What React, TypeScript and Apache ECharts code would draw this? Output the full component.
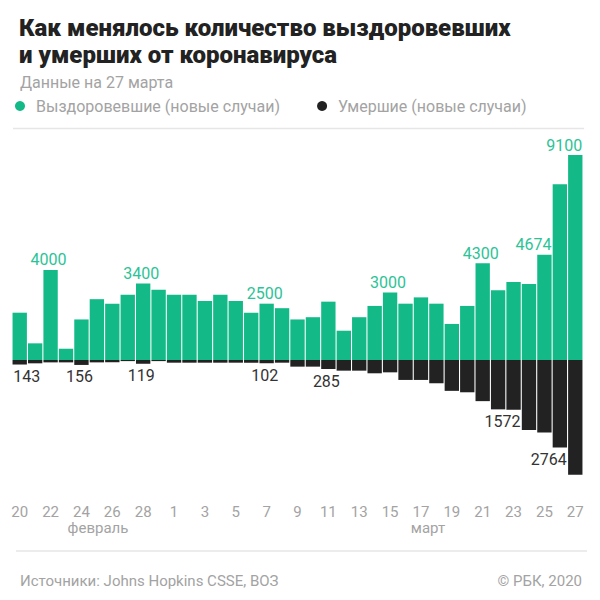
import { useEffect, useRef } from "react";
import * as echarts from "echarts";

// days from 20 Feb to 27 Mar 2020
const days = [
  "20.02", "21.02", "22.02", "23.02", "24.02", "25.02", "26.02", "27.02", "28.02", "29.02",
  "01.03", "02.03", "03.03", "04.03", "05.03", "06.03", "07.03", "08.03", "09.03", "10.03",
  "11.03", "12.03", "13.03", "14.03", "15.03", "16.03", "17.03", "18.03", "19.03", "20.03",
  "21.03", "22.03", "23.03", "24.03", "25.03", "26.03", "27.03",
];

// new recovered per day
const recovered = [
  2100, 740, 4000, 500, 1800, 2700, 2500, 2900, 3400, 3120,
  2900, 2900, 2620, 2900, 2620, 2100, 2500, 2300, 1800, 1900,
  2590, 1300, 1900, 2400, 3000, 2500, 2780, 2500, 1600, 2400,
  4300, 3100, 3460, 3370, 4674, 7800, 9100,
];

// new deaths per day
const deaths = [
  143, 105, 75, 75, 156, 75, 75, 35, 119, 35,
  85, 85, 85, 85, 85, 85, 102, 85, 210, 210,
  285, 337, 337, 420, 390, 630, 630, 735, 975, 1020,
  1300, 1560, 1572, 2210, 2290, 2764, 3630,
];

// which days get a value label
const recoveredLabelDays = ["22.02", "28.02", "07.03", "15.03", "21.03", "25.03", "27.03"];
const deathLabelDays = ["20.02", "24.02", "28.02", "07.03", "11.03", "23.03", "26.03"];

const GREEN = "#13ba87";
const GREEN_TEXT = "#2cc396";
const DARK = "#222222";
const GRAY = "#a3a3a3";

// labels near the chart edges are shifted sideways
const labelShift: Record<string, number> = {
  "20.02": 7,
  "23.03": -11,
  "25.03": -11,
  "26.03": -11,
  "27.03": -11,
};

export default function App() {
  const ref = useRef<HTMLDivElement>(null);

  useEffect(() => {
    if (!ref.current) return;
    const chart = echarts.init(ref.current, null, { renderer: "svg" });

    const recMax = 9100;
    const recMin = (-recMax * 130) / 205;
    const deathPerPx = 31.6;

    chart.setOption({
      animation: false,
      backgroundColor: "#fff",
      textStyle: { fontFamily: "Roboto" },
      title: [
        {
          text: "Как менялось количество выздоровевших\nи умерших от коронавируса",
          left: 14,
          top: 9,
          textStyle: { fontSize: 24, fontWeight: 900, color: DARK, lineHeight: 27, fontFamily: "Roboto" },
        },
        {
          text: "Данные на 27 марта",
          left: 15,
          top: 69,
          textStyle: { fontSize: 16, fontWeight: "normal", color: GRAY },
        },
        {
          text: "Источники: Johns Hopkins CSSE, ВОЗ",
          left: 15,
          top: 568,
          textStyle: { fontSize: 15, fontWeight: "normal", color: GRAY },
        },
        {
          text: "© РБК, 2020",
          right: 13,
          top: 568,
          textStyle: { fontSize: 15, fontWeight: "normal", color: GRAY },
        },
      ],
      legend: {
        left: 10,
        top: 93,
        icon: "circle",
        itemWidth: 22,
        itemHeight: 10,
        itemGap: 37,
        textStyle: { fontSize: 16, color: GRAY },
        data: ["Выздоровевшие (новые случаи)", "Умершие (новые случаи)"],
      },
      grid: { left: 12, right: 17, top: 155, bottom: 110 },
      xAxis: {
        type: "category",
        data: days,
        axisLine: { show: false, onZero: false },
        axisTick: { show: false },
        axisLabel: {
          interval: 1,
          margin: 14,
          fontSize: 15,
          color: GRAY,
          formatter: (v: string) => String(parseInt(v.split(".")[0], 10)),
        },
      },
      yAxis: [
        { type: "value", min: recMin, max: recMax, show: false, splitLine: { show: false } },
        {
          type: "value",
          min: -130 * deathPerPx,
          max: 205 * deathPerPx,
          show: false,
          splitLine: { show: false },
        },
      ],
      series: [
        {
          name: "Выздоровевшие (новые случаи)",
          type: "bar",
          yAxisIndex: 0,
          barWidth: "93%",
          barGap: "-100%",
          itemStyle: { color: GREEN },
          data: recovered.map((v, i) => {
            const d = days[i];
            if (!recoveredLabelDays.includes(d)) return v;
            return {
              value: v,
              label: {
                show: true,
                position: "top",
                distance: 2,
                offset: [labelShift[d] ?? -2, 0],
                fontSize: 16,
                color: GREEN_TEXT,
              },
            };
          }),
        },
        {
          name: "Умершие (новые случаи)",
          type: "bar",
          yAxisIndex: 1,
          barWidth: "93%",
          itemStyle: { color: DARK },
          data: deaths.map((v, i) => {
            const d = days[i];
            if (!deathLabelDays.includes(d)) return -v;
            return {
              value: -v,
              label: {
                show: true,
                position: "bottom",
                distance: 4,
                offset: [labelShift[d] ?? -2, 0],
                fontSize: 16,
                color: "#333",
                formatter: () => String(v),
              },
            };
          }),
        },
      ],
      graphic: [
        { type: "line", shape: { x1: 13, y1: 128.5, x2: 584, y2: 128.5 }, style: { stroke: "#e6e6e6", lineWidth: 1.5 } },
        { type: "line", shape: { x1: 16, y1: 551, x2: 587, y2: 551 }, style: { stroke: "#e6e6e6", lineWidth: 1.5 } },
        {
          type: "text",
          x: 98,
          y: 528,
          style: { text: "февраль", fontSize: 15, fill: GRAY, align: "center", verticalAlign: "middle", fontFamily: "Roboto" },
        },
        {
          type: "text",
          x: 428,
          y: 528,
          style: { text: "март", fontSize: 15, fill: GRAY, align: "center", verticalAlign: "middle", fontFamily: "Roboto" },
        },
      ],
    });

    return () => chart.dispose();
  }, []);

  return (
    <div
      ref={ref}
      style={{ position: "fixed", left: 0, top: 0, width: 600, height: 600, background: "#fff" }}
    />
  );
}
